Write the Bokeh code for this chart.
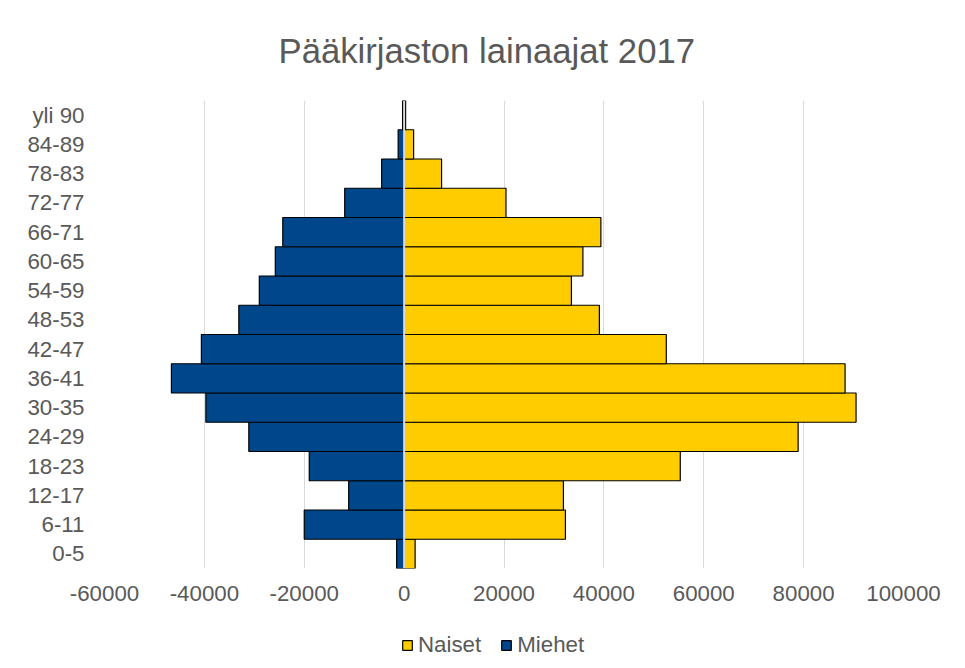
from bokeh.plotting import figure
from bokeh.layouts import column
from bokeh.models import FactorRange, Range1d, Span, Legend, LegendItem, FixedTicker, PrintfTickFormatter
from bokeh.embed import file_html
from bokeh.resources import INLINE

categories = ["0-5", "6-11", "12-17", "18-23", "24-29", "30-35", "36-41", "42-47",
              "48-53", "54-59", "60-65", "66-71", "72-77", "78-83", "84-89", "yli 90"]
naiset = [2200, 32300, 31900, 55300, 78900, 90500, 88300, 52500,
          39100, 33500, 35800, 39400, 20400, 7500, 1900, 300]
miehet = [-1500, -20000, -11100, -19000, -31100, -39700, -46600, -40600,
          -33100, -29000, -25800, -24300, -11900, -4500, -1200, -300]
x_ticks = [-60000, -40000, -20000, 0, 20000, 40000, 60000, 80000, 100000]
series_names = ["Naiset", "Miehet"]
series_values = [naiset, miehet]
series_colors = ["#FFCC00", "#00468B"]

TXT = "#595959"
FONT = "Liberation Sans"

p = figure(width=960, height=615, output_backend="svg", toolbar_location=None,
           y_range=FactorRange(factors=categories, range_padding=0),
           x_range=Range1d(-60000, 100000),
           min_border_left=104, min_border_right=57, min_border_top=100, min_border_bottom=47)

p.title.text = "Pääkirjaston lainaajat 2017"
p.title.text_font = FONT
p.title.text_font_size = "34.7px"
p.title.text_font_style = "normal"
p.title.text_color = TXT
p.title.align = "left"
p.title.vertical_align = "top"
p.title.offset = 174
p.title.standoff = 58

for vals, col in zip(series_values, series_colors):
    p.hbar(y=categories, left=0, right=vals, height=1.0,
           fill_color=col, line_color="black", line_width=1.2)

p.add_layout(Span(location=0, dimension="height", line_color="#d9d9d9", line_width=2))

p.outline_line_color = None
p.ygrid.grid_line_color = None
p.xgrid.grid_line_color = "#d9d9d9"
p.xgrid.grid_line_width = 1
p.xaxis.ticker = FixedTicker(ticks=x_ticks)
p.xaxis.formatter = PrintfTickFormatter(format="%d")

for ax in (p.xaxis, p.yaxis):
    ax.axis_line_color = None
    ax.major_tick_line_color = None
    ax.minor_tick_line_color = None
    ax.major_tick_out = 0
    ax.major_tick_in = 0
    ax.major_label_text_font = FONT
    ax.major_label_text_font_size = "22.3px"
    ax.major_label_text_color = TXT
p.yaxis.major_label_standoff = 20
p.xaxis.major_label_standoff = 17

# legend strip below the chart (its bars are hidden; only the legend shows)
lg = figure(width=960, height=50, output_backend="svg", toolbar_location=None,
            x_range=Range1d(200000, 300000), y_range=FactorRange(factors=categories),
            min_border_left=0, min_border_right=0, min_border_top=0, min_border_bottom=0)
lg.axis.visible = False
lg.grid.visible = False
lg.outline_line_color = None
items = []
for name, vals, col in zip(series_names, series_values, series_colors):
    r = lg.hbar(y=categories, left=0, right=vals, height=1.0, fill_color=col,
                line_color="black", line_width=1.2)
    r.visible = False
    items.append(LegendItem(label=name, renderers=[r]))

legend = Legend(items=items, orientation="horizontal", location=(297, 7),
                label_text_font=FONT, label_text_font_size="22.3px", label_text_color=TXT,
                glyph_width=12, glyph_height=12, label_standoff=5, spacing=19,
                padding=2, margin=0, border_line_color=None, background_fill_alpha=0,
                inactive_fill_alpha=0)
lg.add_layout(legend)

layout = column(p, lg)
open("out.html", "w").write(file_html(layout, INLINE))
